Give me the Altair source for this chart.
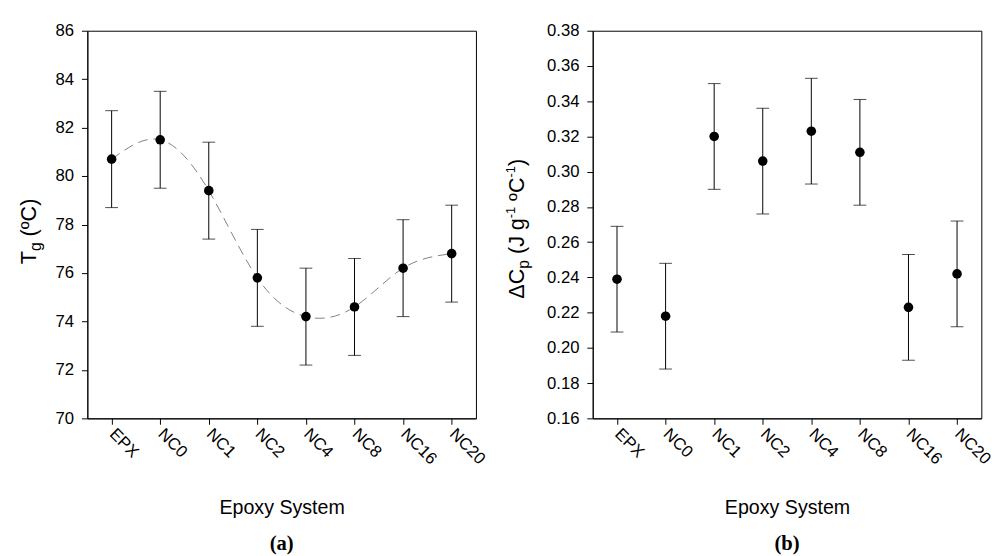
import altair as alt
import pandas as pd

systems = ["EPX", "NC0", "NC1", "NC2", "NC4", "NC8", "NC16", "NC20"]
tg = [80.7, 81.5, 79.4, 75.8, 74.2, 74.6, 76.2, 76.8]
tg_err = [2.0, 2.0, 2.0, 2.0, 2.0, 2.0, 2.0, 2.0]
dcp = [0.239, 0.218, 0.320, 0.306, 0.323, 0.311, 0.223, 0.242]
dcp_err = [0.030, 0.030, 0.030, 0.030, 0.030, 0.030, 0.030, 0.030]
tg_ticks = [70, 72, 74, 76, 78, 80, 82, 84, 86]
dcp_ticks = [0.16, 0.18, 0.20, 0.22, 0.24, 0.26, 0.28, 0.30, 0.32, 0.34, 0.36, 0.38]

FONT = "Liberation Sans"
W, H = 396, 395

# approximate Arial advance widths (per 1000 em) for laying out rotated title pieces
ADV = {"T": 611, "g": 556, "(": 333, ")": 333, "º": 365,
       "C": 722, "Δ": 668, "J": 500, "-": 333, "1": 556, "p": 556}


def text_w(s, fs):
    return sum(ADV.get(c, 556) for c in s) * fs / 1000.0


def rotated_title(pieces, base_x, start_y):
    """pieces: list of (text, fontSize, baseline shift px, gap before px)"""
    layers = []
    y = start_y
    for txt, fs, shift, gap in pieces:
        y -= gap
        layers.append(
            alt.Chart(pd.DataFrame({"t": [txt]}))
            .mark_text(angle=270, align="left", baseline="alphabetic",
                       font=FONT, fontSize=fs, color="black")
            .encode(x=alt.value(base_x + shift), y=alt.value(y), text="t:N")
        )
        y -= text_w(txt, fs)
    return layers


def panel(vals, errs, domain, ticks, fmt, title_layers, sub, curve=False):
    df = pd.DataFrame({
        "system": systems,
        "v": vals,
        "lo": [v - e for v, e in zip(vals, errs)],
        "hi": [v + e for v, e in zip(vals, errs)],
    })
    x = alt.X("system:N", sort=systems,
              scale=alt.Scale(type="point", padding=0.5),
              axis=alt.Axis(title="Epoxy System", labelAngle=45, labelAlign="left",
                            labelBaseline="middle", labelPadding=7,
                            titlePadding=32))
    yscale = alt.Scale(domain=domain, zero=False, nice=False)
    yaxis = alt.Axis(values=ticks, format=fmt, title=None, grid=False,
                     labelPadding=8)
    base = alt.Chart(df).encode(x=x)
    layers = []
    if curve:
        layers.append(base.mark_line(interpolate="natural", color="#808080",
                                     strokeWidth=1, strokeDash=[10, 6])
                      .encode(y=alt.Y("v:Q", scale=yscale, axis=yaxis)))
    layers += [
        base.mark_rule(color="black", strokeWidth=1)
            .encode(y=alt.Y("lo:Q", scale=yscale, axis=yaxis), y2="hi:Q"),
        base.mark_tick(color="black", size=13, thickness=1)
            .encode(y=alt.Y("lo:Q", scale=yscale, axis=yaxis)),
        base.mark_tick(color="black", size=13, thickness=1)
            .encode(y=alt.Y("hi:Q", scale=yscale, axis=yaxis)),
        base.mark_circle(color="black", opacity=1, size=95)
            .encode(y=alt.Y("v:Q", scale=yscale, axis=yaxis)),
    ]
    layers += title_layers
    return alt.layer(*layers).properties(
        width=W, height=H,
        title=alt.TitleParams(text=sub, orient="bottom", font="Liberation Serif",
                              fontSize=21, fontWeight="bold", color="black",
                              offset=16, anchor="middle"),
    )


tg_title = rotated_title([("T", 22, 0, 0), ("g", 16, 5, 0), ("(ºC)", 22, 0, 6)],
                         base_x=-52, start_y=238)
dcp_title = rotated_title([("ΔC", 22, 0, 0), ("p", 16, 5, 0), ("(J", 22, 0, 6),
                           ("g", 22, 0, 6), ("-1", 13, -9, 0), ("ºC", 22, 0, 6),
                           ("-1", 13, -9, 0), (")", 22, 0, 0)],
                          base_x=-70, start_y=273)

left = panel(tg, tg_err, [70, 86], tg_ticks, "d", tg_title, "(a)", curve=True)
right = panel(dcp, dcp_err, [0.16, 0.38], dcp_ticks, ".2f", dcp_title, "(b)")

chart = (
    alt.hconcat(left, right, spacing=16)
    .properties(padding={"left": 18, "top": 16, "right": 5, "bottom": 0})
    .configure_view(stroke="black", strokeWidth=1)
    .configure_axis(domainColor="black", tickColor="black", labelColor="black",
                    labelFont=FONT, labelFontSize=17, tickSize=6,
                    titleFont=FONT, titleFontSize=20, titleFontWeight="normal",
                    titleColor="black")
)

chart.save("out.html", embed_options={"renderer": "svg", "actions": False})
